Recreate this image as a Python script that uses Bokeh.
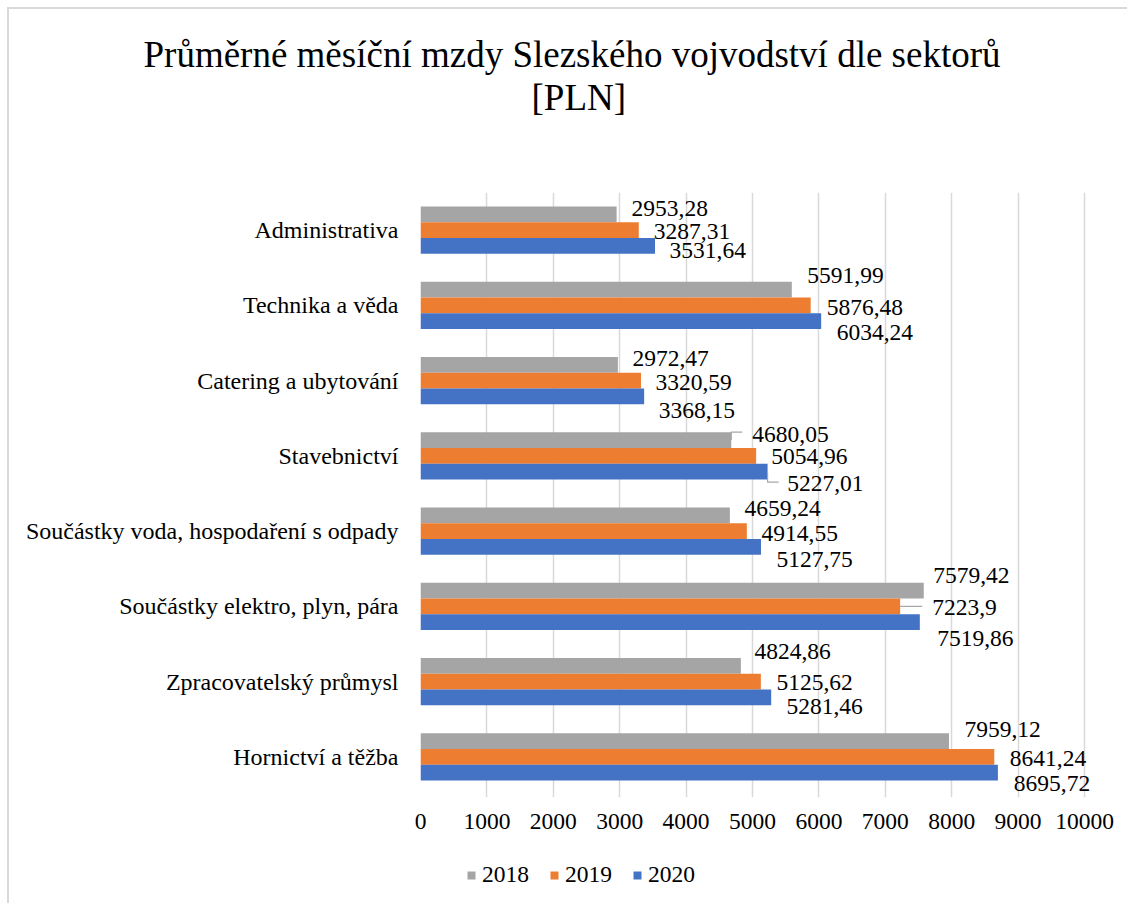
from bokeh.plotting import figure
from bokeh.layouts import column
from bokeh.models import (ColumnDataSource, LabelSet, FixedTicker, Range1d, Legend,
                          LegendItem, Title)
from bokeh.transform import dodge
from bokeh.embed import file_html
from bokeh.resources import INLINE

# ---------------- data ----------------
categories = ["Administrativa", "Technika a věda", "Catering a ubytování", "Stavebnictví",
              "Součástky voda, hospodaření s odpady", "Součástky elektro, plyn, pára",
              "Zpracovatelský průmysl", "Hornictví a těžba"]
years = ["2018", "2019", "2020"]
wages_2018 = [2953.28, 5591.99, 2972.47, 4680.05, 4659.24, 7579.42, 4824.86, 7959.12]
wages_2019 = [3287.31, 5876.48, 3320.59, 5054.96, 4914.55, 7223.9, 5125.62, 8641.24]
wages_2020 = [3531.64, 6034.24, 3368.15, 5227.01, 5127.75, 7519.86, 5281.46, 8695.72]
x_ticks = [0, 1000, 2000, 3000, 4000, 5000, 6000, 7000, 8000, 9000, 10000]
title_line1 = "Průměrné měsíční mzdy Slezského vojvodství dle sektorů"
title_line2 = "[PLN]"

# ---------------- layout / style ----------------
colors = ["#A5A5A5", "#ED7D31", "#4472C4"]
bar_offsets = [0.21, 0.0, -0.21]
bar_height = 0.21
FONT = "Liberation Serif"
FS = "23.5px"
FS_CAT = "24px"
W = 1118
H_MAIN, H_LEG = 836, 58
LEFT, TOP = 411, 183
BAND = 75.25            # px per category
PX_PER_UNIT = 0.0664    # px per PLN
EXTRA_BOTTOM = 3
RIGHT = 9
frame_w = W - LEFT - RIGHT
frame_h = int(round(8 * BAND + EXTRA_BOTTOM))
BOTTOM = H_MAIN - TOP - frame_h
x_end = frame_w / PX_PER_UNIT
px_x = 1 / PX_PER_UNIT
px_y = 1 / BAND

# label offsets in pixels (dx right of bar end, dy down from bar centre)
label_dx = [[15, 15.5, 14.6, 21, 14.6, 9.4, 13.6, 15.5],
            [15, 16, 14.5, 15, 14.7, 32, 15.6, 15.5],
            [14.5, 15.5, 14.5, 19.6, 15.5, 17.4, 15.3, 15.9]]
label_dy = [[-6, -14.5, -6.8, -5.5, -6.5, -15.2, -14.3, -11.5],
            [1, 2, 1.7, 0.8, 2.5, 1, 0.8, 2],
            [4.5, 11.5, 14.5, 11.7, 12.2, 16.7, 9, 11.2]]
# leader lines: (series, category index, [(dx,dy) px points])
leaders = [(0, 3, [(0, 0), (0, -8), (11, -8)]),
           (2, 3, [(0, 1), (0, 10.5), (11, 10.5)]),
           (1, 5, [(0, 0), (22, 0)])]

n = len(categories)
pos = [n - 1 - i for i in range(n)]

p = figure(width=W, height=H_MAIN, title=None,
           x_range=Range1d(0, x_end),
           y_range=Range1d(-0.5 - EXTRA_BOTTOM / BAND, n - 0.5),
           output_backend="svg", toolbar_location=None,
           min_border_left=LEFT, min_border_right=RIGHT,
           min_border_top=TOP, min_border_bottom=BOTTOM)
p.outline_line_color = None
p.background_fill_color = "white"
p.border_fill_color = "white"

# titles (first added = closest to the frame)
spacer = Title(text="\u00a0", text_font=FONT, text_font_size="66px", text_color="white")
t2 = Title(text=title_line2, align="left", offset=111, text_font=FONT,
           text_font_size="37px", text_font_style="normal", text_color="black")
t1 = Title(text=title_line1, align="left", offset=-277, text_font=FONT,
           text_font_size="37px", text_font_style="normal", text_color="black")
for t in (spacer, t2, t1):
    try:
        t.standoff = 0
    except Exception:
        pass
p.add_layout(spacer, "above")
p.add_layout(t2, "above")
p.add_layout(t1, "above")

def fmt(v):
    s = f"{v:.2f}".rstrip("0").rstrip(".")
    return s.replace(".", ",")

series = [wages_2018, wages_2019, wages_2020]
for k, vals in enumerate(series):
    src = ColumnDataSource(dict(
        pos=pos, value=vals, label=[fmt(v) for v in vals],
        dx=label_dx[k], dyu=[-d for d in label_dy[k]]))
    p.hbar(y=dodge("pos", bar_offsets[k]), left=0, right="value", height=bar_height,
           fill_color=colors[k], line_color=None, source=src)
    labels = LabelSet(x="value", y=dodge("pos", bar_offsets[k]), text="label",
                      x_offset="dx", y_offset="dyu", source=src,
                      text_font=FONT, text_font_size=FS, text_color="black",
                      text_align="left", text_baseline="middle")
    p.add_layout(labels)

xs, ys = [], []
for k, ci, pts in leaders:
    v = series[k][ci]
    yc = pos[ci] + bar_offsets[k]
    xs.append([v + dx * px_x for dx, dy in pts])
    ys.append([yc - dy * px_y for dx, dy in pts])
p.multi_line(xs=xs, ys=ys, line_color="#A6A6A6", line_width=1.2)

p.xaxis.ticker = FixedTicker(ticks=x_ticks)
p.xgrid.ticker = FixedTicker(ticks=x_ticks)
p.xgrid.grid_line_color = "#D9D9D9"
p.xgrid.grid_line_width = 1.5
p.ygrid.grid_line_color = None
p.xaxis.axis_line_color = None
p.xaxis.major_tick_line_color = None
p.xaxis.minor_tick_line_color = None
p.xaxis.major_tick_out = 0
p.xaxis.major_tick_in = 0
p.xaxis.major_label_standoff = 16
p.xaxis.major_label_text_font = FONT
p.xaxis.major_label_text_font_size = FS
p.xaxis.major_label_text_color = "black"

p.yaxis.ticker = FixedTicker(ticks=pos)
p.yaxis.major_label_overrides = {pos[i]: categories[i] for i in range(n)}
p.yaxis.axis_line_color = None
p.yaxis.major_tick_line_color = None
p.yaxis.minor_tick_line_color = None
p.yaxis.major_tick_out = 0
p.yaxis.major_tick_in = 0
p.yaxis.major_label_standoff = 22
p.yaxis.major_label_text_font = FONT
p.yaxis.major_label_text_font_size = FS_CAT
p.yaxis.major_label_text_color = "black"

# ---------------- legend strip ----------------
leg = figure(width=W, height=H_LEG, x_range=Range1d(0, 1), y_range=Range1d(0, 1),
             x_axis_type=None, y_axis_type=None, output_backend="svg",
             toolbar_location=None, min_border=0)
leg.outline_line_color = None
leg.xgrid.visible = False
leg.ygrid.visible = False
# swatch renderers kept outside the visible range; they only feed the legend glyphs
leg_renderers = [leg.hbar(y=[-5], left=[0], right=[1], height=0.5,
                          fill_color=colors[k], line_color=None)
                 for k in range(3)]
legend = Legend(items=[LegendItem(label=years[k], renderers=[leg_renderers[k]])
                       for k in range(3)],
                orientation="horizontal", location=(46, 15),
                glyph_width=10, glyph_height=10, label_standoff=6, spacing=20,
                padding=0, margin=0, border_line_color=None, background_fill_alpha=0,
                label_text_font=FONT, label_text_font_size=FS, label_text_color="black")
leg.add_layout(legend)

layout = column(p, leg, spacing=0)
layout.styles = {"margin-left": "7px", "margin-top": "7px",
                 "border-left": "2px solid #d9d9d9", "border-top": "2px solid #d9d9d9"}

open("out.html", "w").write(file_html(layout, INLINE))
